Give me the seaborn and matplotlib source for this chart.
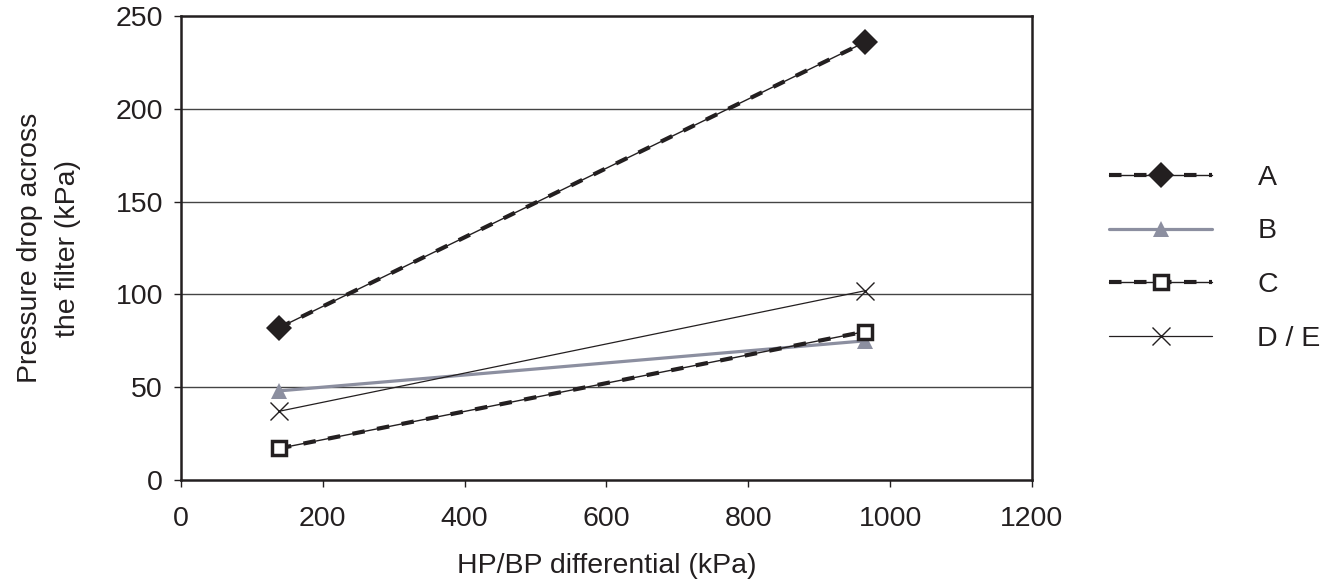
import matplotlib
matplotlib.use("Agg")
import matplotlib.pyplot as plt
import seaborn as sns
import pandas as pd
from matplotlib.lines import Line2D
from matplotlib.legend_handler import HandlerTuple

# ---- data ----
x_vals = [138, 965]
series_names = ["A", "B", "C", "D / E"]
a_vals = [82, 236]
b_vals = [48, 75]
c_vals = [17, 80]
de_vals = [37, 102]
x_ticks = [0, 200, 400, 600, 800, 1000, 1200]
y_ticks = [0, 50, 100, 150, 200, 250]

sns.set_theme(style="white")
plt.rcParams["font.family"] = ["Liberation Sans", "DejaVu Sans"]

fig = plt.figure(figsize=(13.43, 5.87), dpi=100)
ax = fig.add_axes([0.1348, 0.1823, 0.6336, 0.7904])

dark = "#231f20"
bcol = "#8c8fa0"
FS = 20.5

def df(vals):
    return pd.DataFrame({"x": x_vals, "y": vals})

# A: thin solid + thick dashed + diamond
sns.lineplot(data=df(a_vals), x="x", y="y", ax=ax, color=dark, lw=1.0, zorder=3)
sns.lineplot(data=df(a_vals), x="x", y="y", ax=ax, color=dark, lw=3.0, zorder=3,
             marker="D", markersize=13.5, markeredgewidth=0)
ax.lines[-1].set_dashes([3, 3])
# B: gray solid + triangle
sns.lineplot(data=df(b_vals), x="x", y="y", ax=ax, color=bcol, lw=2.3, zorder=2,
             marker="^", markersize=12, markeredgewidth=0)
# C: thin solid + thick dashed + open square
sns.lineplot(data=df(c_vals), x="x", y="y", ax=ax, color=dark, lw=1.0, zorder=3)
sns.lineplot(data=df(c_vals), x="x", y="y", ax=ax, color=dark, lw=3.0, zorder=3,
             marker="s", markersize=9.5, markerfacecolor="white",
             markeredgecolor=dark, markeredgewidth=2.5)
ax.lines[-1].set_dashes([3, 3])
# D/E: thin line + x
sns.lineplot(data=df(de_vals), x="x", y="y", ax=ax, color=dark, lw=0.9, zorder=3,
             marker="x", markersize=13, markeredgewidth=1.0, markeredgecolor=dark)

ax.set_xlim(0, 1200)
ax.set_ylim(0, 250)
ax.set_xticks(x_ticks)
ax.set_yticks(y_ticks)
ax.tick_params(axis="both", labelsize=FS, colors=dark, length=5, width=1,
               direction="out", bottom=True, left=True)
ax.tick_params(axis="y", pad=8)
ax.tick_params(axis="x", pad=14)
for t in ax.xaxis.get_ticklines() + ax.yaxis.get_ticklines():
    t.set_color("#777777")
for y in y_ticks[1:-1]:
    ax.axhline(y, color="#444444", lw=1.0, zorder=1)
for s in ax.spines.values():
    s.set_color(dark)
    s.set_linewidth(1.8)

ax.set_xlabel("HP/BP differential (kPa)", fontsize=FS, color=dark, labelpad=15)
ax.set_ylabel("Pressure drop across\nthe filter (kPa)", fontsize=FS, color=dark,
              labelpad=25, linespacing=1.6)

# legend
hA = (Line2D([], [], color=dark, lw=1.0),
      Line2D([], [], color=dark, lw=3.0, dashes=[3, 3], marker="D", markersize=13.5,
             markeredgewidth=0))
hB = Line2D([], [], color=bcol, lw=2.3, marker="^", markersize=12, markeredgewidth=0)
hC = (Line2D([], [], color=dark, lw=1.0),
      Line2D([], [], color=dark, lw=3.0, dashes=[3, 3], marker="s", markersize=9.5,
             markerfacecolor="white", markeredgecolor=dark, markeredgewidth=2.5))
hD = Line2D([], [], color=dark, lw=0.9, marker="x", markersize=13, markeredgewidth=1.0)
leg = fig.legend([hA, hB, hC, hD], series_names,
                 handler_map={tuple: HandlerTuple(ndivide=1)},
                 loc="center left", bbox_to_anchor=(0.807, 0.56),
                 frameon=False, fontsize=FS, handlelength=3.6,
                 handletextpad=1.6, labelspacing=0.97, markerscale=1.0)
for t in leg.get_texts():
    t.set_color(dark)

fig.savefig("out.png", dpi=100)
